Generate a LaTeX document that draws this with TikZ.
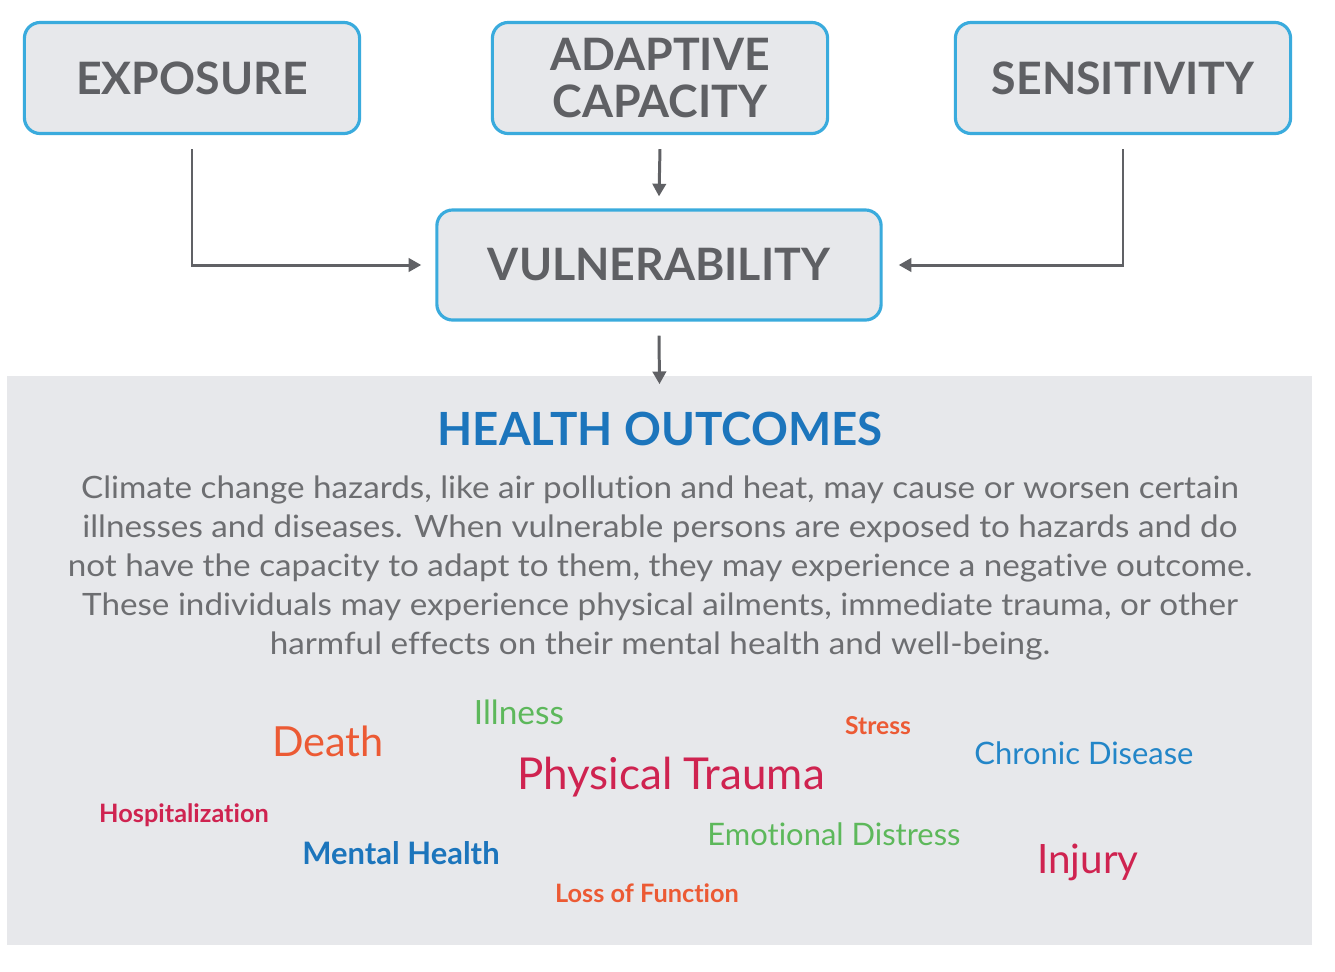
\documentclass[tikz,border=0pt]{standalone}
\usepackage{fontspec}
\setmainfont{Lato}[RawFeature={-liga,-dlig,-calt,-clig}]
\newfontfamily\widefont[FakeStretch=1.08,RawFeature={-liga,-dlig,-calt,-clig}]{Lato}
\usetikzlibrary{arrows.meta,positioning}
\definecolor{boxblue}{HTML}{3AABDD}
\definecolor{boxgray}{HTML}{E7E8EB}
\definecolor{arrowgray}{HTML}{606165}
\definecolor{textgray}{HTML}{5F6064}
\definecolor{bodygray}{HTML}{6D6E71}
\definecolor{headblue}{HTML}{1C75BC}
\definecolor{orangered}{HTML}{EC5A34}
\definecolor{leafgreen}{HTML}{5DB85B}
\definecolor{crimson}{HTML}{CF2350}
\definecolor{skyblue}{HTML}{2386C8}

\begin{document}
\begin{tikzpicture}[x=0.01cm, y=-0.01cm,
  factor/.style={draw=boxblue, line width=0.9pt, fill=boxgray, rounded corners=4.5pt,
    minimum width=3.35cm, minimum height=1.11cm, inner sep=0pt, align=center,
    text=textgray, font=\fontsize{12.7}{13.4}\selectfont\bfseries},
  flow/.style={draw=arrowgray, line width=0.85pt, -{Triangle[length=3.6pt,width=3.8pt]}},
  word/.style={font=\fontsize{#1}{#1}\selectfont, inner sep=0pt},
  bword/.style={font=\fontsize{#1}{#1}\selectfont\bfseries, inner sep=0pt}]

\useasboundingbox (0,0) rectangle (1335,972);
\fill[white] (0,0) rectangle (1335,972);

% Outcome panel
\node[fill=boxgray, minimum width=13.05cm, minimum height=5.69cm, inner sep=0pt] (panel) at (659.5,660.5) {};

% Factor boxes
\node[factor] (expo) at (192,78) {EXPOSURE};
\node[factor] (adapt) at (660,78) {ADAPTIVE\\CAPACITY};
\node[factor] (sens) at (1123,78) {SENSITIVITY};
\node[factor, minimum width=4.44cm, minimum height=1.10cm] (vuln) at (659,265) {VULNERABILITY};

% Arrows
\draw[flow] ([yshift=-1.4mm]expo.south) |- ([xshift=-1.4mm]vuln.west);
\draw[flow] ([yshift=-1.4mm]adapt.south) -- ([yshift=1.2mm]vuln.north);
\draw[flow] ([yshift=-1.4mm]sens.south) |- ([xshift=1.6mm]vuln.east);
\draw[flow] ([yshift=-1.4mm]vuln.south) -- ([yshift=-0.9mm]panel.north);

% Heading and text
\node[text=headblue, font=\fontsize{13}{14}\selectfont\bfseries] (head) at (660,429) {HEALTH OUTCOMES};
\node[text=bodygray, align=center, font=\widefont\fontsize{8.75}{11.1}\selectfont] (body) at (660,568)
  {Climate change hazards, like air pollution and heat, may cause or worsen certain\\
   illnesses and diseases. When vulnerable persons are exposed to hazards and do\\
   not have the capacity to adapt to them, they may experience a negative outcome.\\
   These individuals may experience physical ailments, immediate trauma, or other\\
   harmful effects on their mental health and well-being.};

% Word cloud
\node[word=9.5, text=leafgreen] (illness) at (519,712) {Illness};
\node[word=11.8, text=orangered] (death) at (328,741) {Death};
\node[bword=7, text=orangered] (stress) at (878,726) {Stress};
\node[word=8.8, text=skyblue] (chronic) at (1084,753) {Chronic Disease};
\node[word=12.5, text=crimson] (trauma) at (671,777) {Physical Trauma};
\node[bword=7.2, text=crimson] (hosp) at (184,815) {Hospitalization};
\node[bword=8.8, text=headblue] (mental) at (401,853) {Mental Health};
\node[word=8.8, text=leafgreen] (emotion) at (834,834) {Emotional Distress};
\node[word=11.5, text=crimson] (injury) at (1088,862) {Injury};
\node[bword=7.2, text=orangered] (loss) at (647,893) {Loss of Function};

\end{tikzpicture}
\end{document}
